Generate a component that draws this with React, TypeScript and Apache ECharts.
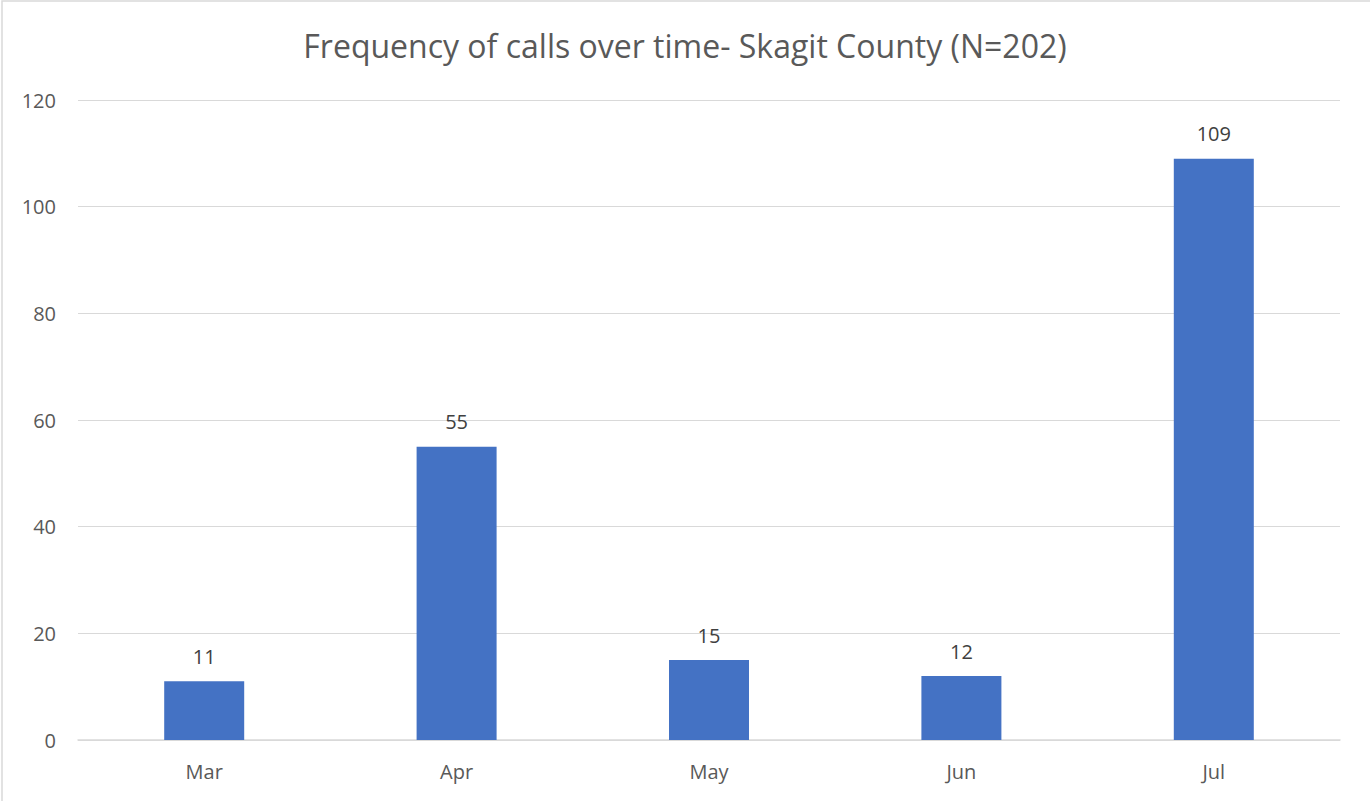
import React, { useEffect, useRef } from "react";
import * as echarts from "echarts";

const title = "Frequency of calls over time- Skagit County (N=202)";
const months = ["Mar", "Apr", "May", "Jun", "Jul"];
const calls = [11, 55, 15, 12, 109];
const yTicks = { min: 0, max: 120, interval: 20 };

export default function App() {
  const ref = useRef<HTMLDivElement>(null);
  useEffect(() => {
    if (!ref.current) return;
    const chart = echarts.init(ref.current, null, { renderer: "svg" });
    chart.setOption({
      animation: false,
      backgroundColor: "#ffffff",
      title: {
        text: title,
        left: "center",
        top: 24,
        textStyle: {
          fontFamily: "Open Sans",
          fontSize: 32,
          fontWeight: "normal",
          color: "#595959",
        },
      },
      graphic: [
        {
          type: "rect",
          shape: { x: 2, y: 1, width: 1400, height: 900 },
          style: { fill: "none", stroke: "#d9d9d9", lineWidth: 1.5 },
          silent: true,
        },
      ],
      grid: { left: 78, right: 30, top: 100, bottom: 61, containLabel: false },
      xAxis: {
        type: "category",
        data: months,
        axisLine: { show: true, lineStyle: { color: "#d9d9d9", width: 1.5 } },
        axisTick: { show: false },
        axisLabel: {
          color: "#595959",
          fontFamily: "Open Sans",
          fontSize: 20,
          margin: 21,
        },
      },
      yAxis: {
        type: "value",
        min: yTicks.min,
        max: yTicks.max,
        interval: yTicks.interval,
        axisLine: { show: false },
        axisTick: { show: false },
        splitLine: { lineStyle: { color: "#d9d9d9", width: 1 } },
        axisLabel: {
          color: "#595959",
          fontFamily: "Open Sans",
          fontSize: 20,
          margin: 22,
        },
      },
      series: [
        {
          type: "bar",
          data: calls,
          barWidth: 80,
          itemStyle: { color: "#4472C4" },
          label: {
            show: true,
            position: "top",
            distance: 15,
            color: "#404040",
            fontFamily: "Open Sans",
            fontSize: 20,
          },
        },
      ],
    });
    return () => chart.dispose();
  }, []);
  return (
    <div
      ref={ref}
      style={{ position: "fixed", left: 0, top: 0, width: 1370, height: 801 }}
    />
  );
}
